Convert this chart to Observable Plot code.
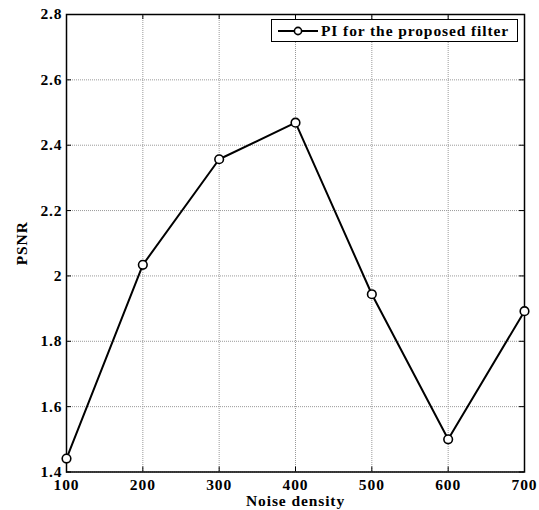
<!DOCTYPE html>
<html>
<head>
<meta charset="utf-8">
<script src="https://cdn.jsdelivr.net/npm/d3@7"></script>
<script src="https://cdn.jsdelivr.net/npm/@observablehq/plot@0.6"></script>
<style>
  html, body { margin: 0; padding: 0; background: #fff; }
  #wrap { position: relative; width: 539px; height: 510px; }
  #legend {
    position: absolute; left: 271px; top: 19px; width: 247px; height: 23px;
    border: 1px solid #000; background: #fff; box-sizing: border-box;
    font: bold 15.5px "Liberation Serif", "Times New Roman", serif;
    letter-spacing: 0.9px;
    display: flex; align-items: center;
  }
  #legend svg { margin-left: 6px; margin-right: 3px; }
  svg text { letter-spacing: 0.9px; }
</style>
</head>
<body>
<div id="wrap"></div>
<script>
const noiseDensity = [100, 200, 300, 400, 500, 600, 700];
const piValues = [1.441, 2.034, 2.357, 2.469, 1.944, 1.500, 1.892];
const xTicks = [100, 200, 300, 400, 500, 600, 700];
const yTicks = [1.4, 1.6, 1.8, 2.0, 2.2, 2.4, 2.6, 2.8];
const seriesName = "PI for the proposed filter";
const xLabel = "Noise density";
const yLabel = "PSNR";

const data = noiseDensity.map((x, i) => ({x, y: piValues[i]}));

const W = 539, H = 510;
const mL = 66, mR = 15, mT = 14, mB = 38.5;
const plotH = H - mT - mB, plotW = W - mL - mR;
const font = '"Liberation Serif", "Times New Roman", serif';

const chart = Plot.plot({
  width: W, height: H,
  marginLeft: mL, marginRight: mR, marginTop: mT, marginBottom: mB,
  style: {fontFamily: font, fontSize: "15.5px", fontWeight: "bold", color: "#000", background: "#fff"},
  x: {domain: [100, 700]},
  y: {domain: [1.4, 2.8]},
  marks: [
    Plot.gridX(xTicks, {stroke: "#999", strokeOpacity: 1, strokeDasharray: "1,1"}),
    Plot.gridY(yTicks, {stroke: "#999", strokeOpacity: 1, strokeDasharray: "1,1"}),
    Plot.ruleX(xTicks, {x: d => d, insetTop: plotH - 5, stroke: "#000", strokeWidth: 1}),
    Plot.ruleX(xTicks, {x: d => d, insetBottom: plotH - 5, stroke: "#000", strokeWidth: 1}),
    Plot.ruleY(yTicks, {y: d => d, insetRight: plotW - 5, stroke: "#000", strokeWidth: 1}),
    Plot.ruleY(yTicks, {y: d => d, insetLeft: plotW - 5, stroke: "#000", strokeWidth: 1}),
    Plot.axisX(xTicks, {tickSize: 0, tickPadding: 7, label: null, fontWeight: "bold"}),
    Plot.text([xLabel], {frameAnchor: "bottom", dy: 34, lineAnchor: "bottom", text: d => d, fontWeight: "bold", fontSize: 15.5}),
    Plot.axisY(yTicks, {tickSize: 0, tickPadding: 4, tickFormat: d => String(+d.toFixed(1)), label: yLabel, labelAnchor: "center", labelArrow: "none", labelOffset: 51, fontWeight: "bold"}),
    Plot.frame({stroke: "#000", strokeWidth: 1.5}),
    Plot.line(data, {x: "x", y: "y", stroke: "#000", strokeWidth: 2}),
    Plot.dot(data, {x: "x", y: "y", r: 4.3, stroke: "#000", strokeWidth: 1.6, fill: "#fff"})
  ]
});

const wrap = document.getElementById("wrap");
wrap.appendChild(chart);

const legend = document.createElement("div");
legend.id = "legend";
legend.innerHTML = `<svg width="40" height="12"><line x1="0" y1="6" x2="40" y2="6" stroke="#000" stroke-width="2"/><circle cx="20" cy="6" r="3.6" fill="#fff" stroke="#000" stroke-width="1.6"/></svg><span>${seriesName}</span>`;
wrap.appendChild(legend);
</script>
</body>
</html>
